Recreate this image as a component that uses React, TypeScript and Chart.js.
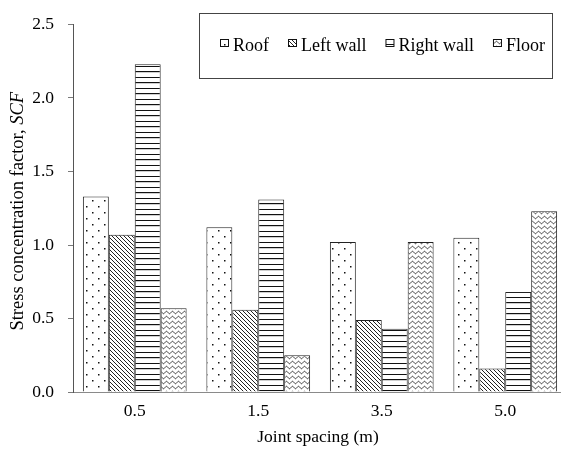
import React, { useEffect, useRef } from "react";
import { Chart, registerables } from "chart.js";

Chart.register(...registerables);

const categories = ["0.5", "1.5", "3.5", "5.0"];
const seriesLabels = ["Roof", "Left wall", "Right wall", "Floor"];
const roof = [1.33, 1.12, 1.02, 1.05];
const leftWall = [1.07, 0.56, 0.49, 0.16];
const rightWall = [2.23, 1.31, 0.43, 0.68];
const floor = [0.57, 0.25, 1.02, 1.23];
const yTicks = [0, 0.5, 1.0, 1.5, 2.0, 2.5];
const xTitle = "Joint spacing (m)";
const yTitleMain = "Stress concentration factor, ";
const yTitleItalic = "SCF";

const FONT = '"Liberation Serif", "Times New Roman", serif';
const FS = 17.5;
const FS_LEGEND = 18;
const FS_YTITLE = 18.5;

function makeTile(w: number, h: number, draw: (c: CanvasRenderingContext2D) => void): CanvasPattern {
  const cv = document.createElement("canvas");
  cv.width = w;
  cv.height = h;
  const c = cv.getContext("2d") as CanvasRenderingContext2D;
  c.fillStyle = "#ffffff";
  c.fillRect(0, 0, w, h);
  draw(c);
  const main = document.createElement("canvas").getContext("2d") as CanvasRenderingContext2D;
  return main.createPattern(cv, "repeat") as CanvasPattern;
}

function makePatterns(): CanvasPattern[] {
  const dots = makeTile(12, 12, (c) => {
    c.fillStyle = "#111";
    c.fillRect(2, 2, 1.5, 1.5);
    c.fillRect(8, 8, 1.5, 1.5);
  });
  const diag = makeTile(4, 4, (c) => {
    c.fillStyle = "#222";
    for (let i = 0; i < 4; i++) c.fillRect(i, i, 1, 1);
  });
  const horiz = makeTile(4, 11, (c) => {
    c.fillStyle = "#111";
    c.fillRect(0, 0, 4, 1);
    c.fillRect(0, 5, 4, 1.2);
  });
  const wave = makeTile(6, 5, (c) => {
    c.strokeStyle = "#222";
    c.lineWidth = 0.9;
    c.beginPath();
    for (let x = -1; x <= 7; x += 0.25) {
      const y = 2.5 + 1.2 * Math.sin((2 * Math.PI * x) / 6);
      if (x === -1) c.moveTo(x, y);
      else c.lineTo(x, y);
    }
    c.stroke();
  });
  return [dots, diag, horiz, wave];
}

export default function App() {
  const ref = useRef<HTMLCanvasElement | null>(null);
  useEffect(() => {
    if (!ref.current) return;
    const patterns = makePatterns();
    const values = [roof, leftWall, rightWall, floor];

    const decor = {
      id: "decor",
      afterDraw(chart: any) {
        const ctx: CanvasRenderingContext2D = chart.ctx;
        const { top, bottom } = chart.chartArea;
        ctx.save();
        // y title
        ctx.save();
        ctx.translate(18, (top + bottom) / 2 + 3);
        ctx.rotate(-Math.PI / 2);
        ctx.fillStyle = "#000";
        ctx.textBaseline = "middle";
        ctx.textAlign = "left";
        ctx.font = `${FS_YTITLE}px ${FONT}`;
        const w1 = ctx.measureText(yTitleMain).width;
        ctx.font = `italic ${FS_YTITLE}px ${FONT}`;
        const w2 = ctx.measureText(yTitleItalic).width;
        const start = -(w1 + w2) / 2;
        ctx.font = `${FS_YTITLE}px ${FONT}`;
        ctx.fillText(yTitleMain, start, 0);
        ctx.font = `italic ${FS_YTITLE}px ${FONT}`;
        ctx.fillText(yTitleItalic, start + w1, 0);
        ctx.restore();
        // x title
        ctx.font = `${FS}px ${FONT}`;
        ctx.fillStyle = "#000";
        ctx.textAlign = "center";
        ctx.textBaseline = "middle";
        ctx.fillText(xTitle, 318, 437);
        // legend
        ctx.fillStyle = "#fff";
        ctx.fillRect(199.5, 13.5, 353, 65);
        ctx.strokeStyle = "#444";
        ctx.lineWidth = 1;
        ctx.strokeRect(199.5, 13.5, 353, 65);
        let x = 220;
        ctx.textAlign = "left";
        ctx.textBaseline = "alphabetic";
        ctx.font = `${FS_LEGEND}px ${FONT}`;
        seriesLabels.forEach((lab, i) => {
          ctx.fillStyle = patterns[i];
          ctx.fillRect(x + 0.5, 39.5, 8, 7);
          ctx.strokeStyle = "#111";
          ctx.strokeRect(x + 0.5, 39.5, 8, 7);
          ctx.fillStyle = "#000";
          ctx.fillText(lab, x + 13, 50.5);
          x += 13 + ctx.measureText(lab).width + 19;
        });
        ctx.restore();
      },
    };

    const chart = new Chart(ref.current, {
      type: "bar",
      data: {
        labels: categories,
        datasets: values.map((v, i) => ({
          label: seriesLabels[i],
          data: v,
          backgroundColor: patterns[i],
          borderColor: "#222",
          borderWidth: 1,
          barPercentage: 1,
          categoryPercentage: 0.84,
        })),
      },
      options: {
        responsive: false,
        animation: false,
        events: [],
        layout: { padding: { top: 16, right: 8, left: 0, bottom: 0 } },
        plugins: { legend: { display: false }, tooltip: { enabled: false } },
        scales: {
          x: {
            grid: { display: false, drawTicks: false },
            border: { display: true, color: "#8a8a8a", width: 1 },
            ticks: { color: "#000", font: { family: FONT, size: FS }, padding: 9 },
            afterFit: (s: any) => {
              s.height = 60;
            },
          },
          y: {
            min: 0,
            max: 2.5,
            afterBuildTicks: (s: any) => {
              s.ticks = yTicks.map((v) => ({ value: v }));
            },
            grid: { display: true, drawOnChartArea: false, drawTicks: true, tickLength: 5, color: "#7a7a7a" },
            border: { display: true, color: "#555", width: 1 },
            ticks: {
              color: "#000",
              font: { family: FONT, size: FS },
              padding: 14,
              callback: (v: any) => Number(v).toFixed(1),
            },
            afterFit: (s: any) => {
              s.width = 73;
            },
          },
        },
      },
      plugins: [decor],
    });
    return () => chart.destroy();
  }, []);

  return (
    <div style={{ position: "fixed", left: 0, top: 0, width: 561, height: 452, overflow: "hidden", background: "#fff" }}>
      <canvas ref={ref} width={575} height={452} style={{ display: "block" }} />
    </div>
  );
}
